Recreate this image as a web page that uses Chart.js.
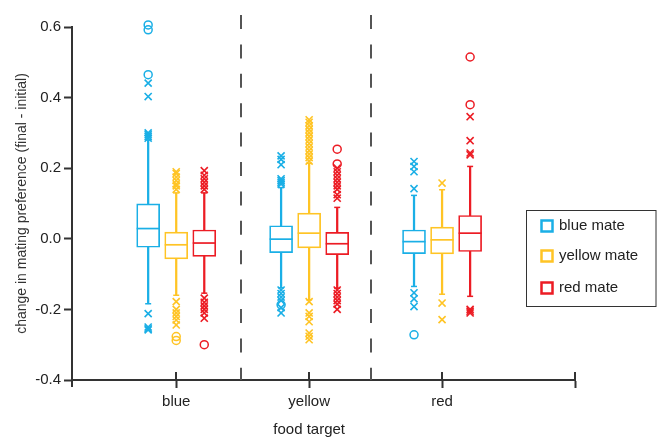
<!DOCTYPE html>
<html>
<head>
<meta charset="utf-8">
<script src="https://cdn.jsdelivr.net/npm/chart.js@4.4.1/dist/chart.umd.min.js"></script>
<style>
  html, body { margin: 0; padding: 0; background: #fff; }
</style>
</head>
<body>
<canvas id="chart" width="657" height="439"></canvas>
<script>
// categories
const foodTargets = ['blue', 'yellow', 'red'];
const mateNames = ['blue mate', 'yellow mate', 'red mate'];
const mateColors = ['#1AAFE6', '#FFC425', '#EC1C24'];
const yTicks = [-0.4, -0.2, 0.0, 0.2, 0.4, 0.6];
const separators = [1.49, 2.465];

// [lower whisker, q1, median, q3, upper whisker] for each food target
const blueMateStats = [
    [-0.184, -0.024, 0.029, 0.099, 0.280],
    [-0.139, -0.039, -0.001, 0.037, 0.145],
    [-0.135, -0.042, -0.008, 0.025, 0.123]
];
const yellowMateStats = [
    [-0.160, -0.057, -0.017, 0.019, 0.130],
    [-0.173, -0.026, 0.016, 0.073, 0.214],
    [-0.157, -0.043, -0.003, 0.033, 0.139]
];
const redMateStats = [
    [-0.154, -0.050, -0.012, 0.025, 0.130],
    [-0.140, -0.045, -0.014, 0.018, 0.089],
    [-0.163, -0.036, 0.016, 0.066, 0.205]
];

// outliers drawn as x
const blueMateCrosses = [
    [0.441, 0.403, 0.300, 0.295, 0.290, 0.285, -0.212, -0.250, -0.255, -0.258],
    [0.235, 0.225, 0.210, 0.170, 0.165, 0.160, 0.155, -0.145, -0.155, -0.165, -0.175, -0.195, -0.210],
    [0.219, 0.205, 0.190, 0.142, -0.153, -0.170, -0.192]
];
const yellowMateCrosses = [
    [0.190, 0.185, 0.175, 0.165, 0.155, 0.150, 0.140, -0.178, -0.200, -0.210, -0.220, -0.230, -0.244],
    [0.337, 0.330, 0.320, 0.310, 0.300, 0.290, 0.280, 0.270, 0.260, 0.250, 0.240, 0.230, 0.220,
     -0.178, -0.210, -0.220, -0.235, -0.267, -0.276, -0.286],
    [0.158, -0.182, -0.229]
];
const redMateCrosses = [
    [0.193, 0.180, 0.170, 0.160, 0.150, 0.140, -0.168, -0.180, -0.190, -0.200, -0.210, -0.225],
    [0.200, 0.190, 0.180, 0.170, 0.160, 0.150, 0.140, 0.125, 0.115, -0.145, -0.155, -0.165, -0.175, -0.185, -0.200],
    [0.346, 0.278, 0.243, 0.238, -0.200, -0.205, -0.210]
];

// outliers drawn as o
const blueMateCircles = [[0.606, 0.592, 0.465], [-0.187], [-0.272]];
const yellowMateCircles = [[-0.277, -0.288], [], []];
const redMateCircles = [[-0.300], [0.254, 0.212], [0.515, 0.380]];

const allStats = [blueMateStats, yellowMateStats, redMateStats];
const allCrosses = [blueMateCrosses, yellowMateCrosses, redMateCrosses];
const allCircles = [blueMateCircles, yellowMateCircles, redMateCircles];

const FONT = 'Liberation Sans, Arial, Helvetica, sans-serif';
const AXIS = '#333';
const groupShift = 0.211;

function pointsFrom(lists, shift) {
    const out = [];
    lists.forEach((vals, k) => vals.forEach(v => out.push({ x: k + 1 + shift, y: v })));
    return out;
}

// Build the datasets: whisker, box, median, caps, outliers for each mate colour
const datasets = [];
allStats.forEach((stats, i) => {
    const color = mateColors[i];
    const shift = (i - 1) * groupShift;
    datasets.push({
        type: 'bar', grouped: false, order: 5,
        data: stats.map((s, k) => ({ x: k + 1 + shift, y: [s[0], s[4]] })),
        backgroundColor: color, barThickness: 1.6, borderWidth: 0
    });
    datasets.push({
        type: 'bar', grouped: false, order: 4,
        data: stats.map((s, k) => ({ x: k + 1 + shift, y: [s[1], s[3]] })),
        backgroundColor: '#fff', borderColor: color, borderWidth: 1.7,
        borderSkipped: false, barThickness: 23
    });
    datasets.push({
        type: 'scatter', order: 3,
        data: stats.map((s, k) => ({ x: k + 1 + shift, y: s[2] })),
        pointStyle: 'line', radius: 11.5, borderColor: color, borderWidth: 1.7
    });
    datasets.push({
        type: 'scatter', order: 3,
        data: stats.flatMap((s, k) => [{ x: k + 1 + shift, y: s[0] }, { x: k + 1 + shift, y: s[4] }]),
        pointStyle: 'line', radius: 3, borderColor: color, borderWidth: 1.5
    });
    datasets.push({
        type: 'scatter', order: 2, clip: false,
        data: pointsFrom(allCrosses[i], shift),
        pointStyle: 'crossRot', radius: 5, borderColor: color, borderWidth: 1.6
    });
    datasets.push({
        type: 'scatter', order: 2, clip: false,
        data: pointsFrom(allCircles[i], shift),
        pointStyle: 'circle', radius: 4, borderColor: color,
        backgroundColor: 'rgba(0,0,0,0)', borderWidth: 1.5
    });
});

// dashed separators, inner tick halves, x title and legend box
const overlay = {
    id: 'overlay',
    beforeDatasetsDraw(chart) {
        const { ctx, scales: { x }, chartArea } = chart;
        ctx.save();
        ctx.strokeStyle = '#555';
        ctx.lineWidth = 2;
        ctx.setLineDash([14, 15.4]);
        separators.forEach(v => {
            const px = Math.round(x.getPixelForValue(v));
            ctx.beginPath();
            ctx.moveTo(px, 15);
            ctx.lineTo(px, chartArea.bottom);
            ctx.stroke();
        });
        ctx.restore();
    },
    afterDraw(chart) {
        const { ctx, scales: { x }, chartArea } = chart;
        ctx.save();
        ctx.strokeStyle = AXIS;
        ctx.lineWidth = 2;
        [1, 2, 3, 4].forEach(v => {
            const px = Math.round(x.getPixelForValue(v));
            ctx.beginPath();
            ctx.moveTo(px, chartArea.bottom - 8);
            ctx.lineTo(px, chartArea.bottom);
            ctx.stroke();
        });
        // y axis runs a little past the x axis
        ctx.beginPath();
        ctx.moveTo(chartArea.left, chartArea.bottom);
        ctx.lineTo(chartArea.left, chartArea.bottom + 7);
        ctx.stroke();

        ctx.fillStyle = '#222';
        ctx.font = '15px ' + FONT;
        ctx.textAlign = 'center';
        ctx.textBaseline = 'alphabetic';
        ctx.fillText('food target', x.getPixelForValue(2), 434);

        // legend
        ctx.lineWidth = 1;
        ctx.strokeStyle = '#333';
        ctx.strokeRect(526.5, 210.5, 129.5, 96);
        ctx.textAlign = 'left';
        const rows = [230, 260, 292];
        mateNames.forEach((name, i) => {
            ctx.strokeStyle = mateColors[i];
            ctx.lineWidth = 2.5;
            ctx.strokeRect(541.5, rows[i] - 9.5, 11, 11);
            ctx.fillStyle = '#222';
            ctx.fillText(name, 559, rows[i]);
        });
        ctx.restore();
    }
};

new Chart(document.getElementById('chart'), {
    type: 'scatter',
    data: { datasets: datasets },
    plugins: [overlay],
    options: {
        responsive: false,
        animation: false,
        events: [],
        layout: { padding: { top: 27, right: 82, left: 0, bottom: 0 } },
        plugins: { legend: { display: false }, tooltip: { enabled: false } },
        scales: {
            x: {
                type: 'linear', min: 0.216, max: 4, offset: false,
                afterBuildTicks: s => { s.ticks = [1, 2, 3, 4].map(v => ({ value: v })); },
                afterFit: s => { s.height = 59; },
                ticks: {
                    callback: v => foodTargets[v - 1] || '',
                    font: { family: FONT, size: 15 }, color: '#222',
                    padding: 5, autoSkip: false, maxRotation: 0
                },
                grid: { drawOnChartArea: false, offset: false, tickLength: 8, tickWidth: 2, tickColor: AXIS },
                border: { color: AXIS, width: 2 }
            },
            y: {
                min: -0.4, max: 0.6,
                afterBuildTicks: s => { s.ticks = yTicks.map(v => ({ value: v })); },
                afterFit: s => { s.width = 72; },
                ticks: {
                    callback: v => v.toFixed(1),
                    font: { family: FONT, size: 15 }, color: '#222', padding: 3
                },
                grid: { drawOnChartArea: false, tickLength: 8, tickWidth: 2, tickColor: AXIS },
                border: { color: AXIS, width: 2 },
                title: {
                    display: true, text: 'change in mating preference (final - initial)',
                    font: { family: FONT, size: 14 }, color: '#333', padding: { top: 14, bottom: 0 }
                }
            }
        }
    }
});
</script>
</body>
</html>
